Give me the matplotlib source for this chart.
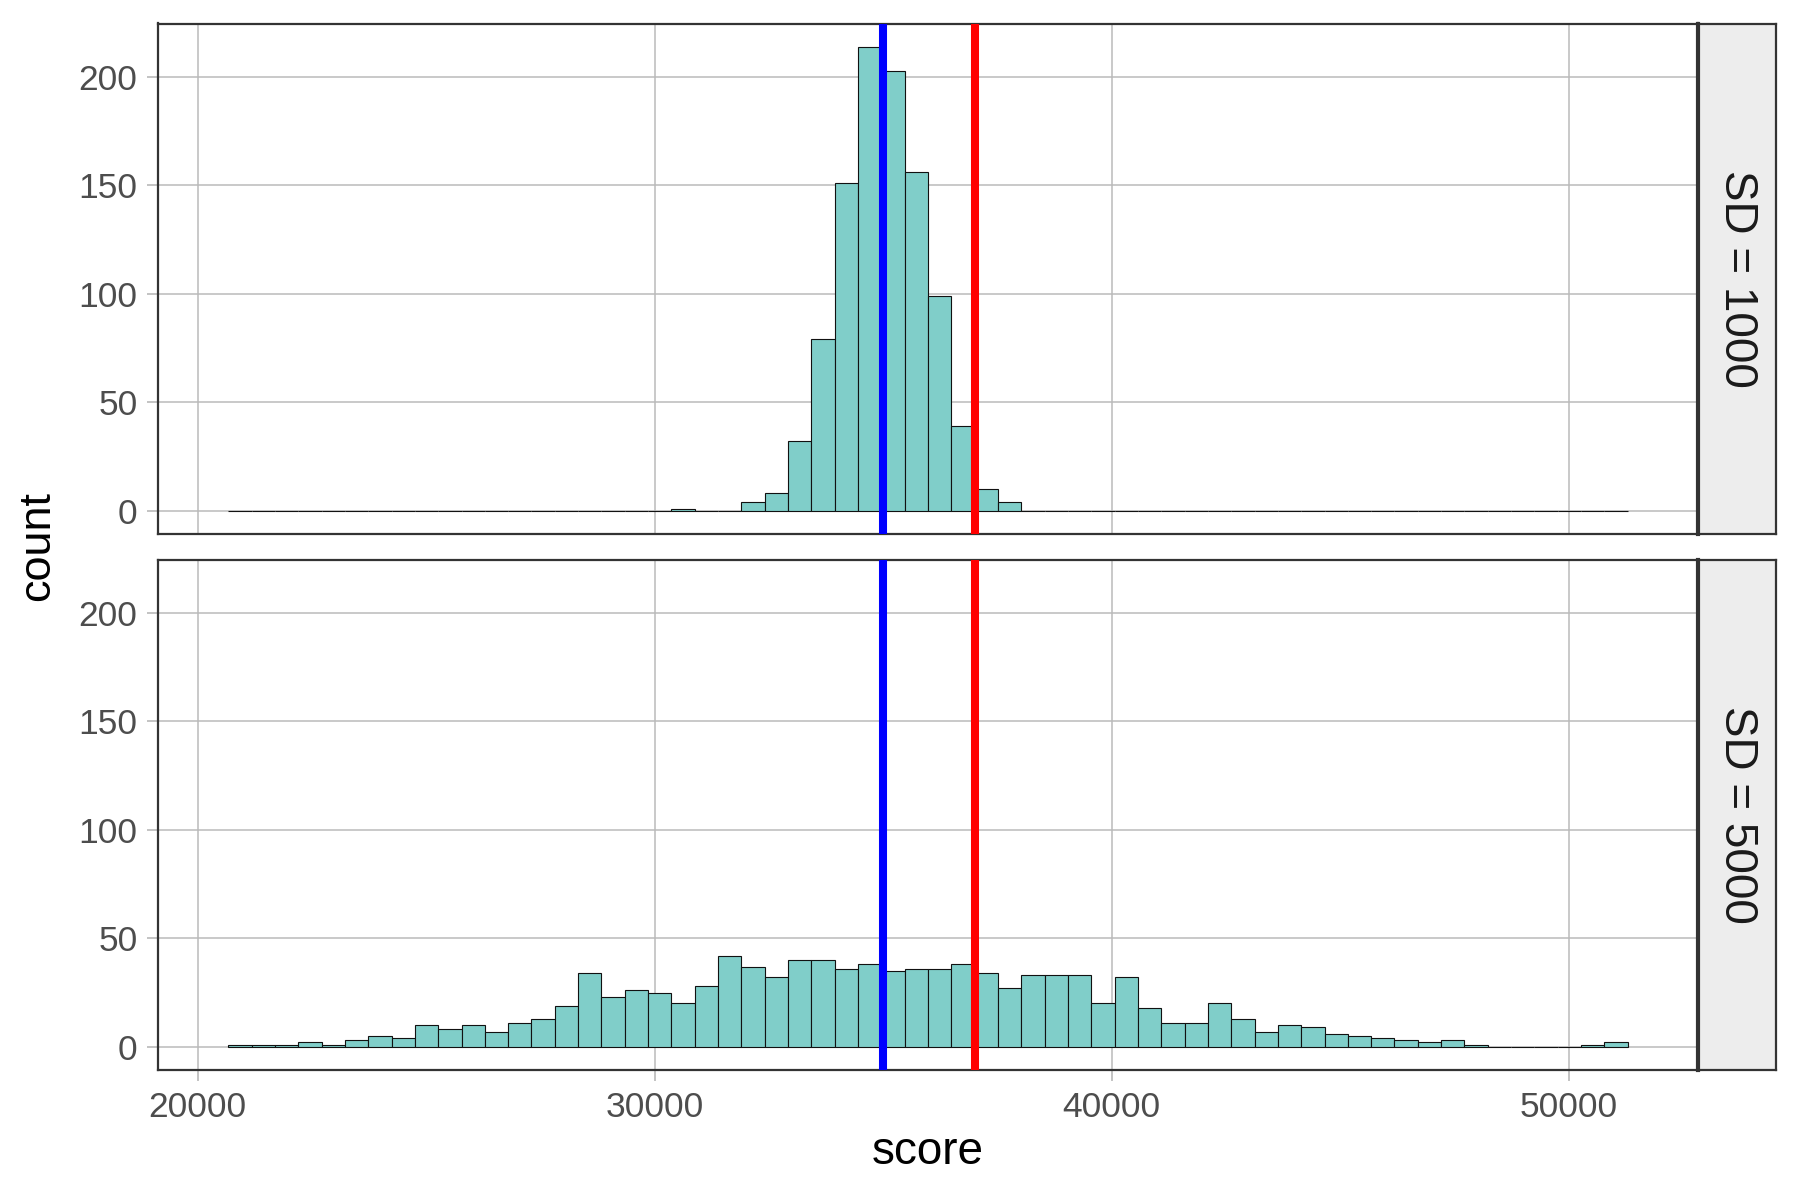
import numpy as np
import matplotlib
matplotlib.use("Agg")
import matplotlib.pyplot as plt

plt.rcParams['font.family'] = ['Liberation Sans', 'DejaVu Sans']

# histogram bins shared by both panels
bin_start = 20669
bin_width = 510.4
n_bins = 60

# counts per bin, SD = 1000 panel
counts_sd1000 = [0] * 19 + [1, 0, 0, 4, 8, 32, 79, 151, 214, 203, 156, 99, 39, 10, 4] + [0] * 26

# counts per bin, SD = 5000 panel
counts_sd5000 = [1, 1, 1, 2, 1, 3, 5, 4, 10, 8, 10, 7, 11, 13, 19, 34, 23, 26,
                 25, 20, 28, 42, 37, 32, 40, 40, 36, 38, 35, 36, 36, 38, 34, 27, 33, 33, 33, 20,
                 32, 18, 11, 11, 20, 13, 7, 10, 9, 6, 5, 4, 3, 2, 3, 1, 0, 0, 0, 0, 1, 2]

panel_labels = ["SD = 1000", "SD = 5000"]
blue_line = 35000
red_line = 37000

x_ticks = [20000, 30000, 40000, 50000]
y_ticks = [0, 50, 100, 150, 200]

edges = bin_start + bin_width * np.arange(n_bins + 1)
data_min, data_max = edges[0], edges[-1]
pad_x = 0.05 * (data_max - data_min)
ymax = max(max(counts_sd1000), max(counts_sd5000))

W, H = 1800, 1200
fig = plt.figure(figsize=(18, 12), dpi=100)

left = 158.3 / W
right = 1697.7 / W
strip_right = 1776 / W
panels = [(23.5, 534.0), (559.5, 1070.0)]

for i, (counts, label) in enumerate(zip([counts_sd1000, counts_sd5000], panel_labels)):
    top_px, bot_px = panels[i]
    b = 1 - bot_px / H
    h = (bot_px - top_px) / H
    ax = fig.add_axes([left, b, right - left, h])
    ax.bar(edges[:-1], counts, width=bin_width, align='edge',
           facecolor='#80CEC9', edgecolor='#111111', linewidth=0.8, zorder=2)
    ax.axvline(blue_line, color='#0000FF', linewidth=5.8, zorder=3)
    ax.axvline(red_line, color='#FF0000', linewidth=5.8, zorder=3)

    ax.set_xlim(data_min - pad_x, data_max + pad_x)
    ax.set_ylim(-0.05 * ymax, 1.05 * ymax)
    ax.set_xticks(x_ticks)
    ax.set_yticks(y_ticks)
    ax.grid(True, color='#BABABA', linewidth=1.1, zorder=0)
    ax.set_axisbelow(True)
    ax.tick_params(axis='both', length=8, width=1.1, color='#B3B3B3',
                   labelsize=25.5, labelcolor='#4D4D4D', pad=7)
    if i == 0:
        ax.tick_params(axis='x', labelbottom=False, length=0)
    for sp in ax.spines.values():
        sp.set_color('#333333')
        sp.set_linewidth(1.6)

    # facet strip
    sax = fig.add_axes([right, b, strip_right - right, h])
    sax.set_facecolor('#EDEDED')
    sax.set_xticks([])
    sax.set_yticks([])
    for sp in sax.spines.values():
        sp.set_color('#333333')
        sp.set_linewidth(1.6)
    sax.spines['left'].set_linewidth(3.0)
    sax.text(0.5, 0.5, label, rotation=270, ha='center', va='center',
             fontsize=33, color='#1A1A1A', transform=sax.transAxes)

fig.text(928 / W, 1 - 1152 / H, "score", ha='center', va='center', fontsize=33)
fig.text(38 / W, 1 - 546 / H, "count", ha='center', va='center', rotation=90, fontsize=32.5)

fig.savefig("out.png", dpi=100, facecolor='white')
